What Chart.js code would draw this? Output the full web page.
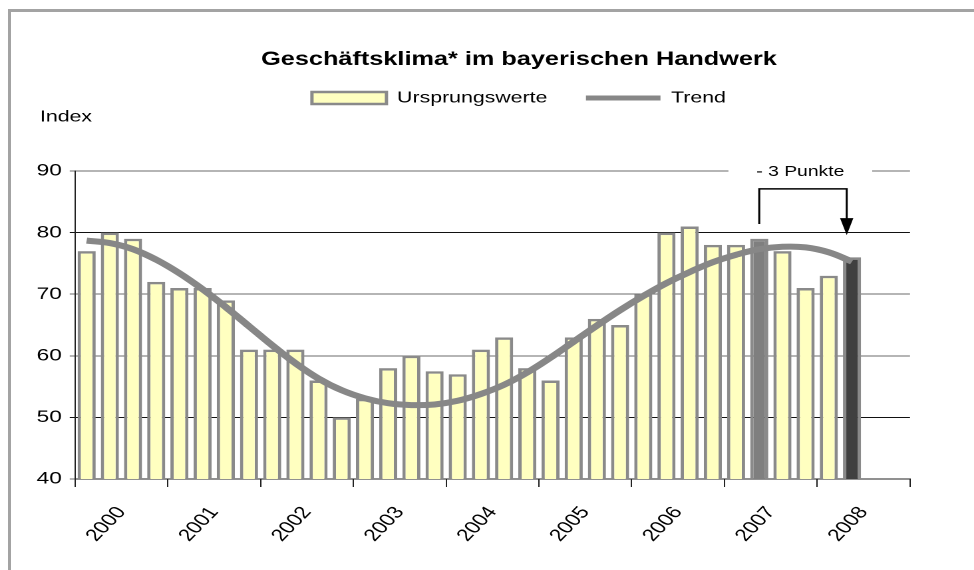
<!DOCTYPE html>
<html>
<head>
<meta charset="utf-8">
<script src="https://cdn.jsdelivr.net/npm/chart.js@4"></script>
<style>
html, body { margin: 0; padding: 0; background: #fff; overflow: hidden; }
#frame { position: absolute; left: 8px; top: 9px; width: 966px; height: 561px;
  border-top: 3px solid #a3a3a3; border-left: 3px solid #a3a3a3; }
/* the original chart is stretched sideways, so the chart is drawn narrow and scaled */
#wrap { position: absolute; left: 0; top: 0; width: 732px; height: 570px;
  transform: scale(1.3306, 1); transform-origin: 0 0; }
</style>
</head>
<body>
<div id="frame"></div>
<div id="wrap"><canvas id="klimaChart"></canvas></div>

<script>
/* ==========================================
DATA
========================================== */

const years = ["2000", "2001", "2002", "2003", "2004", "2005", "2006", "2007", "2008"];

// quarterly values, 2000 Q1 .. 2008 Q2
const ursprungswerte = [
77, 80, 79, 72,
71, 71, 69, 61,
61, 61, 56, 50,
53, 58, 60, 57.5,
57, 61, 63, 58,
56, 63, 66, 65,
70, 80, 81, 78,
78, 79, 77, 71,
73, 76
];

const trend = [
78.7, 78.3, 77.3, 75.6,
73.4, 70.8, 67.9, 64.8,
61.7, 58.8, 56.3, 54.4,
53.1, 52.3, 52.0, 52.1,
52.7, 53.8, 55.3, 57.3,
59.7, 62.3, 64.9, 67.4,
69.7, 71.8, 73.6, 75.2,
76.4, 77.3, 77.7, 77.6,
76.8, 75.3
];

const yTicks = [40, 50, 60, 70, 80, 90];

const compareFrom = 29;   // same quarter previous year
const compareTo = 33;     // latest value
const compareText = "- 3 Punkte";

// one slot per quarter, the last two stay empty
const quarters = [];
years.forEach(y => ["Q1", "Q2", "Q3", "Q4"].forEach(q => quarters.push(y + " " + q)));

const barColors = ursprungswerte.map((v, i) =>
  i === compareFrom ? "#7f7f7f" : i === compareTo ? "#404040" : "#ffffc0");

const FONT = "'Liberation Sans', Arial, sans-serif";

/* ==========================================
EXTRA DRAWING: "Index" label and bracket arrow
========================================== */

const extras = {
  id: "extras",
  afterDatasetsDraw(chart) {
    const ctx = chart.ctx;
    const x = chart.scales.x;
    const y = chart.scales.y;

    ctx.save();
    ctx.fillStyle = "#000";
    ctx.font = "16px " + FONT;
    ctx.textAlign = "left";
    ctx.textBaseline = "middle";
    ctx.fillText("Index", 30, 117);

    const x0 = x.getPixelForValue(compareFrom);
    const x1 = x.getPixelForValue(compareTo) - 4;
    const yLeg = y.getPixelForValue(81.4);
    const yTop = y.getPixelForValue(87.1);
    const yTip = y.getPixelForValue(79.6);

    ctx.strokeStyle = "#000";
    ctx.lineWidth = 1.5;
    ctx.beginPath();
    ctx.moveTo(x0, yLeg);
    ctx.lineTo(x0, yTop);
    ctx.lineTo(x1, yTop);
    ctx.lineTo(x1, yTip - 16);
    ctx.stroke();

    ctx.beginPath();
    ctx.moveTo(x1 - 5, yTip - 17);
    ctx.lineTo(x1 + 5, yTip - 17);
    ctx.lineTo(x1, yTip);
    ctx.closePath();
    ctx.fill();

    // label sits on the 90 grid line with a white gap
    const cx = (x0 + x1) / 2 - 2;
    const cy = y.getPixelForValue(90) + 1;
    ctx.font = "14.5px " + FONT;
    const w = ctx.measureText(compareText).width;
    ctx.fillStyle = "#fff";
    ctx.fillRect(cx - w / 2 - 21, cy - 7, w + 42, 14);
    ctx.fillStyle = "#000";
    ctx.textAlign = "center";
    ctx.fillText(compareText, cx, cy);
    ctx.restore();
  }
};

/* ==========================================
CHART
========================================== */

new Chart(
document.getElementById("klimaChart"),
{
data: {
labels: quarters,
datasets: [
{
type: "line",
label: "Trend",
data: trend,
borderColor: "#878787",
borderWidth: 6,
pointRadius: 0,
tension: 0.4,
fill: false,
order: 1
},
{
type: "bar",
label: "Ursprungswerte",
data: ursprungswerte,
backgroundColor: barColors,
borderColor: "#8a8a8a",
borderWidth: 2.5,
barPercentage: 0.78,
categoryPercentage: 1,
order: 2
}
]
},

options: {
responsive: true,
maintainAspectRatio: false,
animation: false,
devicePixelRatio: 2,

// title and legend sit right of the canvas centre in the original
layout: {
padding: { left: 0, right: -48, top: 0, bottom: 0 }
},

plugins: {
title: {
display: true,
text: "Geschäftsklima* im bayerischen Handwerk",
color: "#000",
font: { family: FONT, size: 19, weight: "bold" },
padding: { top: 48.6, bottom: -10.4 }
},
legend: {
display: true,
labels: {
color: "#000",
font: { family: FONT, size: 16 },
usePointStyle: true,
pointStyleWidth: 56,
boxHeight: 12,
padding: 29,
generateLabels: () => [
{ text: "Ursprungswerte", fillStyle: "#ffffc0", strokeStyle: "#8a8a8a", lineWidth: 2.5, pointStyle: "rect", datasetIndex: 1 },
{ text: "Trend", fillStyle: "#878787", strokeStyle: "#878787", lineWidth: 5, pointStyle: "line", datasetIndex: 0 }
]
}
},
tooltip: { enabled: false }
},

scales: {
x: {
type: "category",
position: "top",
offset: true,
grid: { display: false },
border: { display: false },
ticks: { display: false },
afterFit: s => { s.height = 55; }
},
yr: {
type: "category",
position: "bottom",
labels: years,
offset: true,
grid: { offset: true, drawOnChartArea: false, tickLength: 8, color: "#222" },
border: { color: "#222" },
ticks: {
color: "#000",
font: { family: FONT, size: 17 },
autoSkip: false,
minRotation: 53,
maxRotation: 53,
padding: 16
},
afterFit: s => { s.height = 91; }
},
y: {
position: "left",
min: 40,
max: 90,
afterBuildTicks: s => { s.ticks = yTicks.map(v => ({ value: v })); },
grid: {
color: c => (c.tick && (c.tick.value === 80 || c.tick.value === 50)) ? "#111" : "#6a6a6a",
tickLength: 4
},
border: { color: "#222" },
ticks: {
color: "#000",
font: { family: FONT, size: 17 },
padding: 6
},
afterFit: s => { s.width = 56.4; }
},
y2: {
type: "linear",
position: "right",
grid: { display: false },
border: { display: false },
ticks: { display: false },
afterFit: s => { s.width = 96.1; }
}
}
},

plugins: [extras]
}
);
</script>
</body>
</html>
